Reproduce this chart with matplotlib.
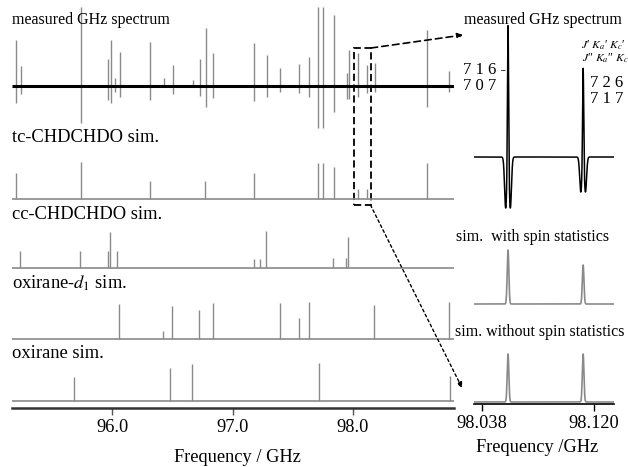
import numpy as np
import matplotlib.pyplot as plt
from matplotlib.patches import Rectangle, ConnectionPatch

plt.rcParams['font.family'] = ['Liberation Serif', 'DejaVu Serif']
plt.rcParams['mathtext.fontset'] = 'stix'

W, H = 628, 467

# measured GHz spectrum, stick lines (intensity up / down, arb.)
meas_freq = [95.206, 95.242, 95.745, 95.970, 95.992, 96.027, 96.064, 96.315, 96.432,
             96.504, 96.670, 96.730, 96.778, 96.841, 97.181, 97.284, 97.394, 97.552,
             97.637, 97.707, 97.749, 97.845, 97.948, 97.964, 98.045, 98.112, 98.180,
             98.614, 98.797]
meas_up = [46, 20, 79, 27, 46, 8, 34, 44, 8, 21, 6, 27, 58, 33, 43, 31, 18, 22,
           29, 79, 79, 71, 13, 36, 33, 21, 23, 56, 15]
meas_down = [17, 8, 37, 14, 17, 6, 11, 14, 0, 8, 0, 10, 21, 12, 15, 11, 6, 7,
             11, 42, 42, 26, 13, 13, 11, 7, 6, 21, 6]

# simulations
tc_freq = [95.206, 95.745, 96.313, 96.772, 97.181, 97.707, 97.748, 97.845, 98.045, 98.112, 98.617]
tc_int = [26, 37, 18, 18, 26, 36, 36, 32, 10.5, 10.5, 36]

cc_freq = [95.234, 95.732, 95.964, 95.986, 96.041, 97.181, 97.225, 97.275, 97.834, 97.942, 97.956]
cc_int = [17.5, 17.5, 17.5, 36, 17.5, 9.5, 9.5, 37.5, 10, 10, 31.5]

d1_freq = [96.058, 96.426, 96.501, 96.725, 96.838, 97.394, 97.549, 97.638, 98.174, 98.797]
d1_int = [35, 8.5, 33, 29, 36.5, 36, 21, 37, 34, 37]

ox_freq = [95.685, 96.481, 96.661, 97.718, 98.805]
ox_int = [24.5, 33.5, 37, 38.5, 25]

panel_labels = ['measured GHz spectrum', 'tc-CHDCHDO sim.', 'cc-CHDCHDO sim.',
                'oxirane-$d_1$ sim.', 'oxirane sim.']
left_ticks = [96.0, 97.0, 98.0]

# zoomed region: two transitions
zoom_freq = [98.057, 98.112]
zoom_meas_peak = [132, 89]
zoom_meas_dip = [51, 35]
zoom_spin = [54, 39]
zoom_nospin = [48, 48]
zoom_ticks = [98.038, 98.120]

grey = '#8a8a8a'


def fx(px):
    return px / W


def fy(py):
    return 1 - py / H


fig = plt.figure(figsize=(W / 100, H / 100), dpi=100)

# ---- left panel ----
axL = fig.add_axes([fx(12), fy(408), fx(454) - fx(12), fy(0) - fy(408)])
axL.set_xlim(95.170, 98.838)
axL.set_ylim(0, 408)
for s in ['top', 'left', 'right']:
    axL.spines[s].set_visible(False)
axL.spines['bottom'].set_color('#333333')
axL.spines['bottom'].set_linewidth(1.8)
axL.set_yticks([])
axL.set_xticks(left_ticks)
axL.set_xticklabels(['%.1f' % t for t in left_ticks], fontsize=13.2)
axL.tick_params(axis='x', direction='out', length=5, width=1, color='#555555', pad=3)

x0, x1 = axL.get_xlim()
base_meas = 408 - 86
axL.vlines(meas_freq, base_meas - np.array(meas_down), base_meas + np.array(meas_up),
           color=grey, lw=1)
axL.hlines(base_meas, x0, x1, color='black', lw=2.2)

sims = [(tc_freq, tc_int, 408 - 199), (cc_freq, cc_int, 408 - 268),
        (d1_freq, d1_int, 408 - 339), (ox_freq, ox_int, 408 - 401)]
for f, a, b in sims:
    axL.hlines(b, x0, x1, color=grey, lw=1.2)
    axL.vlines(f, b, b + np.array(a), color=grey, lw=1)

label_y = [20, 137, 215, 283, 353]
for lab, py in zip(panel_labels, label_y):
    size = 11.5 if py == 20 else 13.3
    fig.text(fx(12), fy(py), lab, fontsize=size, ha='left', va='center')

fig.text(fx(237), fy(457), 'Frequency / GHz', fontsize=13.2, ha='center', va='center')

# dashed box around the zoomed region
box = Rectangle((98.008, 408 - 205), 0.141, 157, fill=False, ec='black', lw=1.3,
                ls=(0, (4, 2)))
axL.add_patch(box)

# ---- right panel ----
axR = fig.add_axes([fx(474), fy(404), fx(614) - fx(474), fy(0) - fy(404)])
axR.set_xlim(98.0321, 98.1346)
axR.set_ylim(0, 404)
for s in ['top', 'left', 'right']:
    axR.spines[s].set_visible(False)
axR.spines['bottom'].set_linewidth(1.2)
axR.set_yticks([])
axR.set_xticks(zoom_ticks)
axR.set_xticklabels(['%.3f' % t for t in zoom_ticks], fontsize=13.2)
axR.tick_params(axis='x', direction='out', length=5, width=1, pad=3)

xs = np.linspace(98.0321, 98.1346, 3000)


def gauss(x, c, s):
    return np.exp(-0.5 * ((x - c) / s) ** 2)


meas = np.zeros_like(xs)
for c, a, d in zip(zoom_freq, zoom_meas_peak, zoom_meas_dip):
    meas += (a + 0.2 * d) * gauss(xs, c, 0.0004)
    meas -= d * (gauss(xs, c - 0.0017, 0.0008) + gauss(xs, c + 0.0017, 0.0008))
axR.plot(xs, 404 - 157 + meas, color='black', lw=1.1)

spin = np.zeros_like(xs)
nospin = np.zeros_like(xs)
for c, a, b in zip(zoom_freq, zoom_spin, zoom_nospin):
    spin += a * gauss(xs, c, 0.0006)
    nospin += b * gauss(xs, c, 0.0006)
axR.plot(xs, 404 - 304 + spin, color=grey, lw=1.2)
axR.plot(xs, 404 - 402 + nospin, color=grey, lw=1.2)

fig.text(fx(543), fy(20), 'measured GHz spectrum', fontsize=11.5, ha='center', va='center')
fig.text(fx(533), fy(237), 'sim.  with spin statistics', fontsize=11.5, ha='center', va='center')
fig.text(fx(540), fy(332), 'sim. without spin statistics', fontsize=11.5, ha='center', va='center')
fig.text(fx(537), fy(447), 'Frequency /GHz', fontsize=13.2, ha='center', va='center')

fig.text(fx(463), fy(70), '7 1 6 -', fontsize=12, ha='left', va='center')
fig.text(fx(463), fy(86), '7 0 7', fontsize=12, ha='left', va='center')
fig.text(fx(590), fy(83), '7 2 6 -', fontsize=12, ha='left', va='center')
fig.text(fx(590), fy(99), '7 1 7', fontsize=12, ha='left', va='center')
fig.text(fx(581), fy(45), "$J$\u2032 $K_a$\u2032 $K_c$\u2032 -", fontsize=8.5,
         ha='left', va='center')
fig.text(fx(582), fy(58), "$J$\u2033 $K_a$\u2033 $K_c$\u2033", fontsize=8.5,
         ha='left', va='center')

# connecting arrows
con1 = ConnectionPatch(xyA=(98.149, 408 - 48), coordsA=axL.transData,
                       xyB=(98.0241, 404 - 35), coordsB=axR.transData,
                       arrowstyle='-|>', mutation_scale=8, lw=1.2, ls=(0, (4, 2.5)),
                       color='black', shrinkA=0, shrinkB=0)
con2 = ConnectionPatch(xyA=(98.145, 408 - 205), coordsA=axL.transData,
                       xyB=(98.0234, 404 - 388), coordsB=axR.transData,
                       arrowstyle='-|>', mutation_scale=8, lw=1.0, ls=(0, (2, 2)),
                       color='black', shrinkA=0, shrinkB=0)
fig.add_artist(con1)
fig.add_artist(con2)

fig.savefig('out.png', dpi=100)
